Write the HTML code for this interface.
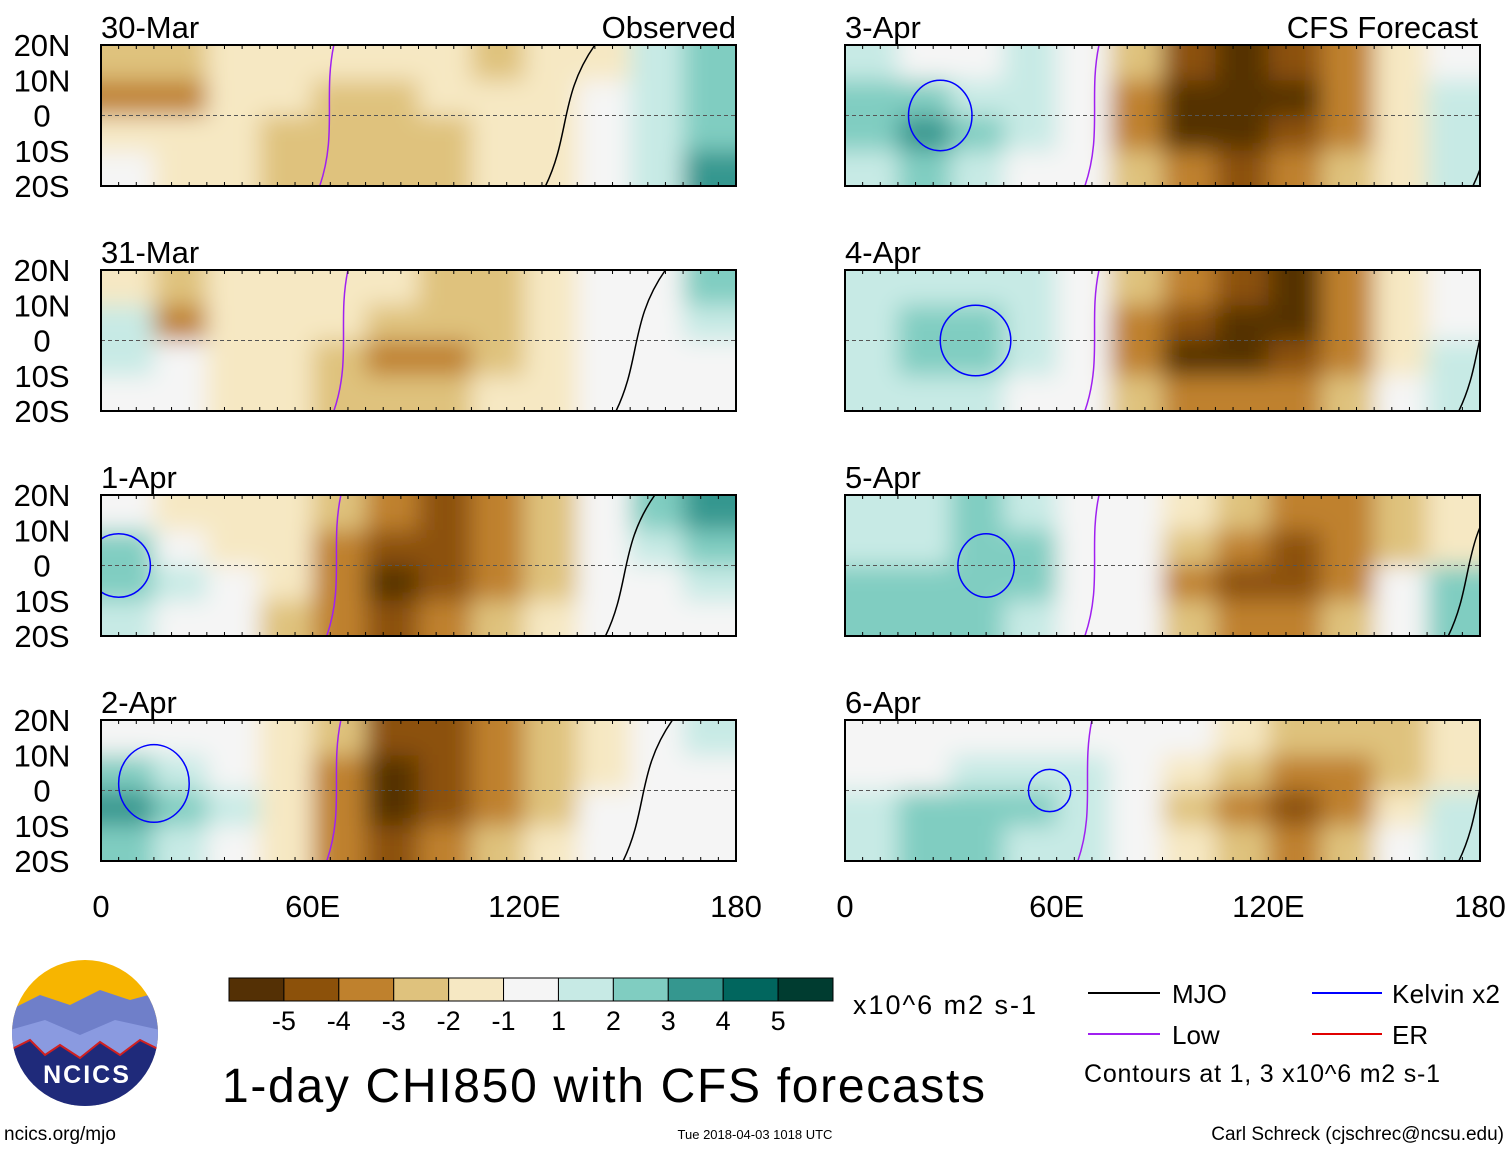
<!DOCTYPE html>
<html><head><meta charset="utf-8"><style>
body{margin:0;background:#fff;font-family:"Liberation Sans",Arial,sans-serif}
svg{display:block}
</style></head><body>
<svg id="c" width="1510" height="1149" xmlns="http://www.w3.org/2000/svg" font-family="Liberation Sans, Arial, sans-serif">
<defs><filter id="bl" x="-5%" y="-10%" width="110%" height="120%"><feGaussianBlur stdDeviation="12"/></filter></defs>
<g id="panels"></g>
<g>
<clipPath id="lc"><circle cx="85" cy="1033" r="73"/></clipPath>
<g clip-path="url(#lc)">
<rect x="10" y="958" width="150" height="150" fill="#f7b500"/>
<path d="M10 1010 L40 995 L70 1005 L100 990 L130 1000 L160 992 L160 1108 L10 1108Z" fill="#6f7fc9"/>
<path d="M10 1030 L45 1020 L80 1035 L115 1020 L160 1030 L160 1108 L10 1108Z" fill="#8a9ae0"/>
<path d="M10 1050 L30 1040 L45 1055 L60 1045 L80 1058 L100 1042 L120 1055 L140 1040 L160 1050 L160 1108 L10 1108Z" fill="#1f2a7a" stroke="#d02020" stroke-width="2"/>
</g>
<text x="87" y="1083" font-size="25" font-weight="bold" fill="#fff" text-anchor="middle" letter-spacing="2">NCICS</text>
</g>
<g id="cbar"></g>
<text x="853" y="1014" font-size="27" textLength="183">x10^6 m2 s-1</text>
<text x="222" y="1102" font-size="48" textLength="763">1-day CHI850 with CFS forecasts</text>
<g font-size="26">
<line x1="1088" y1="993" x2="1160" y2="993" stroke="#000" stroke-width="2"/><text x="1172" y="1003">MJO</text>
<line x1="1312" y1="993" x2="1382" y2="993" stroke="#0000ff" stroke-width="2"/><text x="1392" y="1003" textLength="108">Kelvin x2</text>
<line x1="1088" y1="1034" x2="1160" y2="1034" stroke="#a020f0" stroke-width="2"/><text x="1172" y="1044">Low</text>
<line x1="1312" y1="1034" x2="1382" y2="1034" stroke="#e00000" stroke-width="2"/><text x="1392" y="1044">ER</text>
<text x="1084" y="1082" font-size="25" textLength="356">Contours at 1, 3 x10^6 m2 s-1</text>
</g>
<text x="4" y="1140" font-size="19">ncics.org/mjo</text>
<text x="755" y="1139" font-size="13" text-anchor="middle">Tue 2018-04-03 1018 UTC</text>
<text x="1504" y="1140" font-size="19" text-anchor="end">Carl Schreck (cjschrec@ncsu.edu)</text>
</svg>
<script>
const dates=["30-Mar","31-Mar","1-Apr","2-Apr","3-Apr","4-Apr","5-Apr","6-Apr"];
const latLabels=["20N","10N","0","10S","20S"];
const lonLabels=["0","60E","120E","180"];
const cbLabels=["-5","-4","-3","-2","-1","1","2","3","4","5"];
const palette=["#543005","#8c510a","#bf812d","#dfc27d","#f6e8c3","#f5f5f5","#c7eae5","#80cdc1","#35978f","#01665e","#003c30"];
const p0=[[-2,-2,-1,-1,-1,-1,-1,-2,-1,-1,1,2],[-3,-3,-1,-1,-2,-2,-1,-1,-1,0,1,2],[-1,-1,-1,-2,-2,-2,-2,-1,-1,0,1,2],[0,-1,-1,-2,-2,-2,-2,-1,-1,0,1,3]];
const p1=[[-1,-2,-1,-1,-1,-1,-2,-2,-1,0,0,2],[1,-3,-1,-1,-1,-2,-2,-2,-1,0,0,1],[1,0,-1,-1,-2,-3,-3,-2,-1,0,0,0],[0,0,-1,-1,-2,-2,-2,-1,-1,0,0,0]];
const p2=[[0,-1,-1,-1,-2,-3,-4,-3,-2,0,2,3],[2,0,-1,-1,-3,-4,-4,-3,-2,0,1,2],[2,1,0,-1,-3,-5,-4,-3,-2,0,0,1],[1,0,0,-2,-3,-4,-3,-2,-1,0,0,0]];
const p3=[[0,0,0,-1,-2,-4,-4,-3,-2,-1,0,1],[2,1,0,-1,-3,-5,-4,-3,-2,-1,0,0],[3,2,1,-1,-3,-5,-4,-3,-2,0,0,0],[2,1,0,-1,-3,-4,-3,-2,-1,0,0,0]];
const p4=[[1,0,0,1,0,-2,-4,-5,-4,-3,-1,0],[2,2,1,1,0,-3,-5,-5,-5,-3,-1,1],[2,3,2,1,0,-3,-5,-5,-4,-3,-1,1],[1,2,1,0,0,-2,-3,-4,-3,-2,-1,1]];
const p5=[[1,1,1,1,0,-2,-3,-4,-5,-3,-1,0],[1,2,2,1,0,-3,-4,-5,-5,-3,-1,0],[1,2,2,1,0,-3,-5,-5,-4,-3,-1,1],[1,1,1,0,0,-2,-3,-3,-3,-2,0,1]];
const p6=[[1,1,2,1,0,0,-1,-2,-3,-3,-2,-1],[1,1,2,2,0,0,-2,-3,-4,-3,-2,-1],[2,2,2,2,0,0,-3,-4,-4,-3,0,2],[2,2,2,1,0,0,-2,-3,-3,-2,0,2]];
const p7=[[0,0,0,0,0,0,0,-1,-2,-2,-2,-1],[0,0,1,1,1,0,-1,-2,-3,-3,-2,-1],[1,2,2,2,1,0,-2,-3,-4,-3,-1,1],[1,2,2,1,1,0,-1,-2,-3,-2,0,1]];
const fields=[p0,p1,p2,p3,p4,p5,p6,p7];
const lowLon=[66,70,68,68,72,72,72,70];
const mjoLon=[130,150,147,152,182,178,175,178];
// Kelvin contour centres per panel: [lon, lat, lonRadius, latRadius]
const kelvinLon=[[],[],[5],[15],[27],[37],[40],[58]];
const kelvinLat=[[],[],[0],[2],[0],[0],[0],[0]];
const kelvinRx=[[],[],[9],[10],[9],[10],[8],[6]];
const kelvinRy=[[],[],[9],[11],[10],[10],[9],[6]];

const NS="http://www.w3.org/2000/svg";
function mk(t,a,par){const e=document.createElementNS(NS,t);for(const k in a)e.setAttribute(k,a[k]);par.appendChild(e);return e;}
const root=document.getElementById('panels');
const defs=document.querySelector('defs');
const colX=[101,845],W=635,H=141,rowY=[45,270,495,720];
for(let i=0;i<8;i++){
  const col=i<4?0:1,row=i%4,x0=colX[col],y0=rowY[row];
  const xs=lon=>x0+lon/180*W, ys=lat=>y0+(20-lat)/40*H;
  const cp=mk('clipPath',{id:'cp'+i},defs);
  mk('rect',{x:x0,y:y0,width:W,height:H},cp);
  const g=mk('g',{},root);
  
  
  const inner=mk('g',{'clip-path':'url(#cp'+i+')'},g);
  const fg=mk('g',{filter:'url(#bl)'},inner);
  const f=fields[i],nc=f[0].length,nr=f.length;
  for(let r=0;r<nr;r++)for(let c=0;c<nc;c++){
    const v=f[r][c];
    let x=xs(c*180/nc),y=ys(20-r*40/nr),w=W/nc+0.5,h=H/nr+0.5;
    if(c===0){x-=30;w+=30;} if(c===nc-1)w+=30;
    if(r===0){y-=30;h+=30;} if(r===nr-1)h+=30;
    const cell=mk('rect',{x:x,y:y,width:w,height:h,fill:palette[v+5]},fg);
    
    
  }
  mk('line',{x1:x0,y1:ys(0),x2:x0+W,y2:ys(0),stroke:'#555','stroke-dasharray':'4 3','stroke-width':1},inner);
  const lw=mk('path',{d:`M${xs(lowLon[i])} ${y0} C${xs(lowLon[i]-3)} ${y0+50},${xs(lowLon[i]+1)} ${y0+90},${xs(lowLon[i]-4)} ${y0+H}`,stroke:'#a020f0',fill:'none','stroke-width':1.5},inner);
  
  
  const m=mk('path',{d:`M${xs(mjoLon[i]+10)} ${y0} C${xs(mjoLon[i])} ${y0+50},${xs(mjoLon[i]+3)} ${y0+90},${xs(mjoLon[i]-4)} ${y0+H}`,stroke:'#000',fill:'none','stroke-width':1.5},inner);
  
  
  kelvinLon[i].forEach((lon,k)=>{
    const e=mk('ellipse',{cx:xs(lon),cy:ys(kelvinLat[i][k]),rx:kelvinRx[i][k]/180*W,ry:kelvinRy[i][k]/40*H,fill:'none',stroke:'#0000ff','stroke-width':1.5},inner);
    
    
  });
  mk('rect',{x:x0,y:y0,width:W,height:H,fill:'none',stroke:'#000','stroke-width':2},g);
  for(let t=0;t<=36;t++){const tx=x0+t*W/36;mk('line',{x1:tx,y1:y0,x2:tx,y2:y0+4,stroke:'#000'},g);mk('line',{x1:tx,y1:y0+H,x2:tx,y2:y0+H-4,stroke:'#000'},g);}
  const dl=mk('text',{x:x0,y:y0-7,'font-size':31},g);dl.textContent=dates[i];
  
  
  if(col===0){latLabels.forEach((l,k)=>{const t=mk('text',{x:42,y:y0+k*H/4+11,'font-size':31,'text-anchor':'middle'},g);t.textContent=l;
    
    });}
  if(i===0){const t=mk('text',{x:736,y:38,'font-size':31,'text-anchor':'end'},g);t.textContent='Observed';}
  if(i===4){const t=mk('text',{x:1478,y:38,'font-size':31,'text-anchor':'end'},g);t.textContent='CFS Forecast';}
  if(row===3){lonLabels.forEach((l,k)=>{const t=mk('text',{x:x0+k*W/3,y:917,'font-size':31,'text-anchor':'middle'},g);t.textContent=l;
    
    });}
}
const cb=document.getElementById('cbar');
const bw=(833-229)/11;
palette.forEach((c,k)=>{const r=mk('rect',{x:229+k*bw,y:978,width:bw,height:23,fill:c,stroke:'#000','stroke-width':1},cb);
  
  });
cbLabels.forEach((l,k)=>{const t=mk('text',{x:229+(k+1)*bw,y:1030,'font-size':27,'text-anchor':'middle'},cb);t.textContent=l;
  
  });
</script>
</body></html>
